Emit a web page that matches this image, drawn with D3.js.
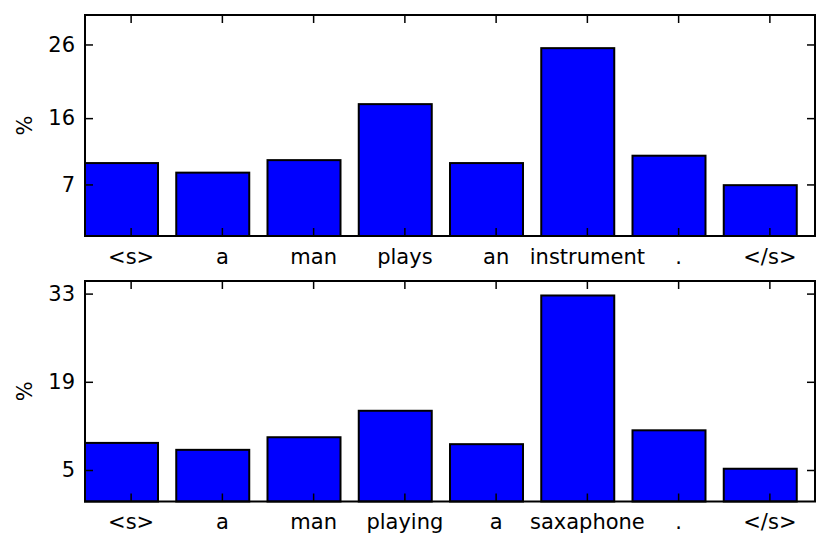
<!DOCTYPE html>
<html lang="en">
<head>
    <meta charset="utf-8">
    <title>Attention bars</title>
    <script src="https://d3js.org/d3.v7.min.js"></script>
    <style>
        body { margin: 0; background: #fff; }
        text { font-family: "DejaVu Sans", sans-serif; }
    </style>
</head>
<body>
<div id="chart"></div>
<script>
    // Data (percent per token)
    const tokensTop = ["<s>", "a", "man", "plays", "an", "instrument", ".", "</s>"];
    const valuesTop = [9.9, 8.6, 10.3, 17.9, 9.9, 25.5, 10.9, 6.9];
    const yTicksTop = [7, 16, 26];
    const yMaxTop = 30;

    const tokensBottom = ["<s>", "a", "man", "playing", "a", "saxaphone", ".", "</s>"];
    const valuesBottom = [9.3, 8.2, 10.2, 14.4, 9.1, 32.7, 11.3, 5.2];
    const yTicksBottom = [5, 19, 33];
    const yMaxBottom = 35;

    const width = 830, height = 548;
    const fontSize = 21;
    const tickLen = 8;

    const svg = d3.select("#chart")
        .append("svg")
        .attr("width", width)
        .attr("height", height);

    // Draw one panel: bars are left aligned at i with width 0.8, ticks at i + 0.5
    function drawPanel(tokens, values, yTicks, yMax, box) {
        const g = svg.append("g")
            .attr("transform", `translate(${box.left}, ${box.top})`);
        const w = box.right - box.left, h = box.bottom - box.top;

        const x = d3.scaleLinear().domain([0, tokens.length]).range([0, w]);
        const y = d3.scaleLinear().domain([0, yMax]).range([h, 0]);
        const tickPos = tokens.map((d, i) => i + 0.5);

        g.selectAll("rect.bar")
            .data(values)
            .join("rect")
            .attr("class", "bar")
            .attr("x", (d, i) => x(i))
            .attr("width", x(0.8) - x(0))
            .attr("y", d => y(d))
            .attr("height", d => y(0) - y(d))
            .attr("fill", "#0000ff")
            .attr("stroke", "#000")
            .attr("stroke-width", 2);

        const styleAxis = sel => {
            sel.select(".domain").remove();
            sel.selectAll(".tick line").attr("stroke", "#000").attr("stroke-width", 1.5);
            sel.selectAll(".tick text")
                .attr("fill", "#000")
                .style("font-size", fontSize + "px")
                .style("font-family", "'DejaVu Sans', sans-serif");
        };

        // bottom axis with token labels
        g.append("g")
            .attr("transform", `translate(0, ${h})`)
            .call(d3.axisBottom(x).tickValues(tickPos)
                .tickFormat((d, i) => tokens[i])
                .tickSizeInner(-tickLen).tickSizeOuter(0).tickPadding(13))
            .call(styleAxis);

        // top axis, marks only
        g.append("g")
            .call(d3.axisTop(x).tickValues(tickPos).tickFormat("")
                .tickSizeInner(-tickLen).tickSizeOuter(0))
            .call(styleAxis);

        // left axis
        g.append("g")
            .call(d3.axisLeft(y).tickValues(yTicks)
                .tickSizeInner(-tickLen).tickSizeOuter(0).tickPadding(10))
            .call(styleAxis);

        // right axis, marks only
        g.append("g")
            .attr("transform", `translate(${w}, 0)`)
            .call(d3.axisRight(y).tickValues(yTicks).tickFormat("")
                .tickSizeInner(-tickLen).tickSizeOuter(0))
            .call(styleAxis);

        // frame
        g.append("rect")
            .attr("width", w)
            .attr("height", h)
            .attr("fill", "none")
            .attr("stroke", "#000")
            .attr("stroke-width", 2);

        // y label
        g.append("text")
            .attr("transform", `translate(${25 - box.left}, ${h / 2}) rotate(-90)`)
            .attr("text-anchor", "middle")
            .attr("dy", "0.35em")
            .style("font-size", fontSize + "px")
            .text("%");
    }

    drawPanel(tokensTop, valuesTop, yTicksTop, yMaxTop,
        {left: 85, right: 815, top: 15, bottom: 236});
    drawPanel(tokensBottom, valuesBottom, yTicksBottom, yMaxBottom,
        {left: 85, right: 815, top: 281, bottom: 501.5});
</script>
</body>
</html>
